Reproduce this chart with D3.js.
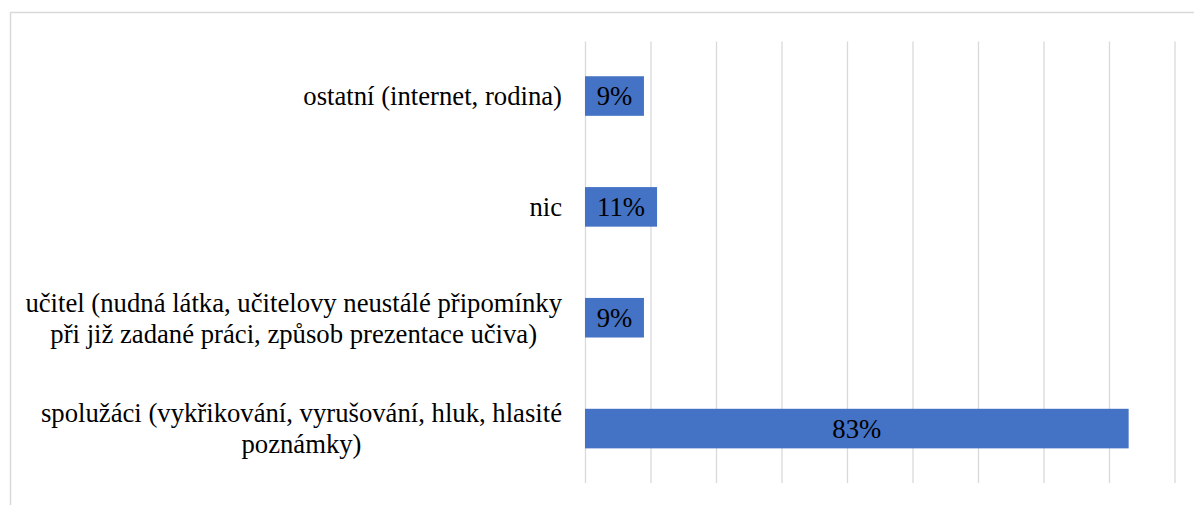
<!DOCTYPE html>
<html><head><meta charset="utf-8">
<script src="https://cdn.jsdelivr.net/npm/d3@7"></script>
<style>
html,body{margin:0;padding:0;background:#fff;overflow:hidden}
svg text{font-family:"Liberation Serif",serif}
</style>
</head><body>
<svg id="chart" width="1194" height="505"></svg>
<script>
const categories = [
  ["ostatní (internet, rodina)"],
  ["nic"],
  ["učitel (nudná látka, učitelovy neustálé připomínky", "při již zadané práci, způsob prezentace učiva)"],
  ["spolužáci (vykřikování, vyrušování, hluk, hlasité", "poznámky)"]
];
const values = [9, 11, 9, 83];
const valueLabels = ["9%", "11%", "9%", "83%"];
const ticks = [0, 10, 20, 30, 40, 50, 60, 70, 80, 90];

const svg = d3.select("#chart");
const m = {left: 585, right: 1174.5, top: 40.6, bottom: 484};
const font = "Liberation Serif";
const fs = 26.7;

svg.append("rect").attr("x", 10.5).attr("y", 12.5).attr("width", 1300).attr("height", 600)
  .attr("fill", "#fff").attr("stroke", "#d9d9d9").attr("stroke-width", 1.5);

const x = d3.scaleLinear().domain([0, 90]).range([m.left, m.right]);
const idx = d3.range(categories.length);
const y = d3.scaleBand().domain(idx).range([m.top, m.bottom]).paddingInner(0.643).paddingOuter(0.3215);

const gx = svg.append("g").attr("transform", `translate(0,${m.bottom - 1})`)
  .call(d3.axisBottom(x).tickValues(ticks).tickSize(-(m.bottom - m.top - 2)).tickFormat(""));
gx.select(".domain").remove();
gx.selectAll(".tick line").attr("stroke", "#d9d9d9").attr("stroke-width", 1.3);

svg.append("g").selectAll("rect").data(idx).join("rect")
  .attr("x", x(0)).attr("y", i => y(i))
  .attr("width", i => x(values[i]) - x(0)).attr("height", y.bandwidth())
  .attr("fill", "#4472c4");

svg.append("g").selectAll("text").data(idx).join("text")
  .attr("font-family", font).attr("font-size", fs)
  .attr("x", i => (x(0) + x(values[i])) / 2)
  .attr("y", i => y(i) + y.bandwidth() / 2)
  .attr("dy", "0.35em").attr("text-anchor", "middle")
  .attr("fill", "#000")
  .text(i => valueLabels[i]);

const lineH = 31;
const labelRight = m.left - 23;
const lg = svg.append("g");
idx.forEach(i => {
  const lines = categories[i];
  const cy = y(i) + y.bandwidth() / 2;
  const texts = lines.map((t, k) => lg.append("text")
    .attr("font-family", font).attr("font-size", fs).attr("fill", "#000")
    .attr("y", cy + (k - (lines.length - 1) / 2) * lineH)
    .attr("dy", "0.35em").attr("text-anchor", "middle").text(t));
  const maxW = d3.max(texts, t => t.node().getComputedTextLength());
  texts.forEach(t => t.attr("x", labelRight - maxW / 2));
});
</script>
</body></html>
